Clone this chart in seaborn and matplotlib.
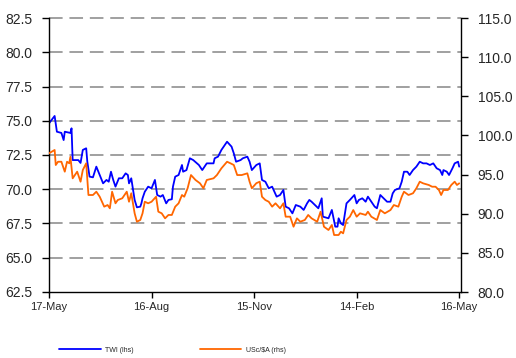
import matplotlib
matplotlib.use("Agg")
import matplotlib.pyplot as plt
import matplotlib.dates as mdates
import seaborn as sns
import pandas as pd
import numpy as np

start_date = "2012-05-17"
tick_dates = ["2012-05-17", "2012-08-16", "2012-11-15", "2013-02-14", "2013-05-16"]

twi_days = [0, 5, 7, 11, 13, 14, 19, 20, 21, 26, 28, 30, 33, 34, 36, 39, 42, 45, 48, 51,
            53, 55, 57, 59, 62, 65, 68, 70, 71, 73, 76, 78, 81, 82, 83, 85, 88, 91, 94, 96,
            99, 101, 104, 106, 109, 110, 112, 115, 118, 119, 122, 125, 128, 133, 136, 140, 146, 147, 150, 153,
            158, 162, 164, 166, 170, 172, 176, 178, 180, 184, 187, 189, 192, 195, 198, 200, 202, 205, 208, 210,
            213, 216, 219, 223, 226, 229, 231, 233, 236, 239, 242, 243, 248, 251, 254, 256, 257, 259, 261, 264,
            267, 271, 273, 275, 278, 281, 283, 286, 289, 291, 294, 297, 300, 303, 305, 307, 311, 313, 315, 318,
            320, 323, 326, 329, 332, 335, 338, 341, 344, 347, 349, 350, 353, 355, 358, 360, 363, 364]
twi_values = [74.81, 75.35, 74.20, 74.11, 73.59, 74.20, 74.11, 74.45, 72.13, 72.13, 71.92, 72.87, 72.99, 72.01, 70.92, 70.87, 71.65, 71.04, 70.43, 70.68,
              70.55, 71.28, 70.68, 70.19, 70.80, 70.80, 71.16, 71.04, 70.43, 70.80, 69.22, 68.68, 68.73, 68.97, 69.34, 69.82, 70.19, 70.07, 70.68, 69.58,
              69.46, 69.58, 68.97, 69.22, 69.27, 70.19, 70.92, 71.04, 71.77, 71.28, 71.40, 72.26, 72.13, 71.77, 71.40, 71.89, 71.89, 72.26, 72.38, 72.87,
              73.47, 73.11, 72.62, 72.01, 72.13, 72.26, 72.38, 72.01, 71.40, 71.77, 71.89, 70.68, 70.55, 70.07, 70.19, 69.82, 69.46, 69.58, 69.95, 68.73,
              68.61, 68.24, 68.85, 68.73, 68.49, 68.97, 69.22, 69.09, 68.85, 68.61, 69.34, 68.00, 67.88, 68.49, 67.27, 67.27, 67.88, 67.51, 67.39, 68.97,
              69.22, 69.58, 68.97, 69.22, 69.34, 69.09, 69.46, 69.09, 68.73, 68.61, 69.58, 69.34, 69.09, 69.09, 69.70, 69.95, 70.07, 70.55, 71.28, 71.28,
              71.04, 71.40, 71.65, 72.01, 71.89, 71.89, 71.77, 71.89, 71.53, 71.40, 71.04, 71.40, 71.28, 71.04, 71.53, 71.89, 72.01, 71.65]

usd_days = [0, 5, 6, 8, 11, 14, 16, 18, 19, 21, 25, 28, 30, 33, 35, 39, 42, 45, 49, 52,
            54, 56, 59, 61, 65, 69, 71, 73, 76, 78, 81, 83, 85, 88, 91, 95, 97, 100, 103, 106,
            109, 112, 115, 118, 120, 123, 126, 130, 134, 137, 140, 146, 149, 153, 158, 161, 164, 167, 171, 176,
            178, 180, 184, 187, 189, 192, 195, 198, 201, 205, 208, 210, 214, 217, 220, 223, 227, 230, 233, 238,
            241, 244, 248, 251, 253, 257, 259, 261, 264, 267, 270, 273, 276, 281, 283, 286, 291, 294, 298, 303,
            306, 310, 313, 315, 319, 323, 326, 329, 332, 337, 340, 343, 346, 348, 350, 354, 357, 360, 362, 364]
usd_values = [97.72, 98.14, 96.22, 96.64, 96.64, 95.37, 96.64, 96.44, 97.28, 94.52, 95.37, 94.09, 95.58, 96.44, 92.39, 92.39, 92.81, 92.17, 90.90, 91.11,
              90.69, 92.81, 91.33, 91.75, 91.97, 92.81, 91.53, 92.61, 90.05, 88.98, 89.20, 90.05, 91.53, 91.33, 91.53, 92.17, 90.26, 90.05, 89.41, 89.84,
              89.84, 90.90, 91.33, 92.39, 92.17, 93.25, 94.94, 94.31, 93.88, 93.25, 94.31, 94.52, 94.94, 95.80, 96.64, 96.44, 96.22, 94.94, 94.94, 95.16,
              94.09, 93.25, 93.90, 94.09, 92.17, 91.75, 91.53, 90.90, 91.33, 90.69, 91.33, 89.62, 89.62, 88.34, 89.41, 88.98, 89.20, 89.84, 89.41, 88.98,
              90.26, 88.34, 87.92, 88.56, 87.28, 87.28, 87.70, 87.49, 89.20, 89.62, 90.47, 89.62, 90.05, 89.84, 90.26, 89.62, 89.20, 90.47, 90.05, 90.47,
              91.11, 90.90, 92.17, 92.81, 92.39, 92.61, 93.25, 94.09, 93.88, 93.67, 93.45, 93.45, 93.03, 92.39, 93.03, 93.03, 93.67, 94.09, 93.67, 93.88]

left_ticks = [62.5, 65.0, 67.5, 70.0, 72.5, 75.0, 77.5, 80.0, 82.5]
right_ticks = [80.0, 85.0, 90.0, 95.0, 100.0, 105.0, 110.0, 115.0]

sns.set_style("white")
plt.rcParams['font.family'] = ['Liberation Sans', 'DejaVu Sans']

t0 = pd.Timestamp(start_date)
twi_df = pd.DataFrame({"date": t0 + pd.to_timedelta(twi_days, unit="D"), "value": twi_values})
usd_df = pd.DataFrame({"date": t0 + pd.to_timedelta(usd_days, unit="D"), "value": usd_values})

fig = plt.figure(figsize=(5.16, 3.58), dpi=100)
ax = fig.add_axes([49/516, 1-292/358, (461-49)/516, (292-18)/358])
ax2 = ax.twinx()

sns.lineplot(data=twi_df, x="date", y="value", ax=ax, color="#0000FF", linewidth=1.3, label="TWI (lhs)", legend=False)
sns.lineplot(data=usd_df, x="date", y="value", ax=ax2, color="#FF6600", linewidth=1.3, label="USc/$A (rhs)", legend=False)

ax.set_ylim(62.5, 82.5)
ax2.set_ylim(80, 115)
ax.set_yticks(left_ticks)
ax.set_yticklabels([f"{v:.1f}" for v in left_ticks])
ax2.set_yticks(right_ticks)
ax2.set_yticklabels([f"{v:.1f}" for v in right_ticks])

ax.set_xlim(t0, t0 + pd.Timedelta(days=365.6))
ax.set_xticks(pd.to_datetime(tick_dates))
ax.xaxis.set_major_formatter(mdates.DateFormatter("%d-%b"))

for v in left_ticks[1:]:
    ax.axhline(v, color="#A0A0A0", linewidth=1.4, linestyle=(0, (7, 3.5)), zorder=0, clip_on=False)

for a in (ax, ax2):
    a.set_xlabel("")
    a.set_ylabel("")
    a.spines["top"].set_visible(False)
    for s in ("left", "right", "bottom"):
        a.spines[s].set_color("black")
        a.spines[s].set_linewidth(1.0)
ax.spines["right"].set_visible(False)
ax2.spines["left"].set_visible(False)
ax2.spines["bottom"].set_visible(False)

ax.tick_params(axis="y", which="both", direction="out", length=5, width=1, color="black", labelsize=10, pad=7)
ax.tick_params(axis="x", direction="out", length=4, width=1, color="black", labelsize=8, pad=3, bottom=True)
ax2.tick_params(axis="y", direction="out", length=5, width=1, color="black", labelsize=10, pad=7, right=True)

h1, l1 = ax.get_legend_handles_labels()
h2, l2 = ax2.get_legend_handles_labels()
fig.legend(h1 + h2, l1 + l2, loc="center left", bbox_to_anchor=(53/516, 1-350/358), ncol=2,
           frameon=False, fontsize=5, handlelength=6.0, columnspacing=9.5, handletextpad=0.6)

fig.savefig("out.png", dpi=100)
